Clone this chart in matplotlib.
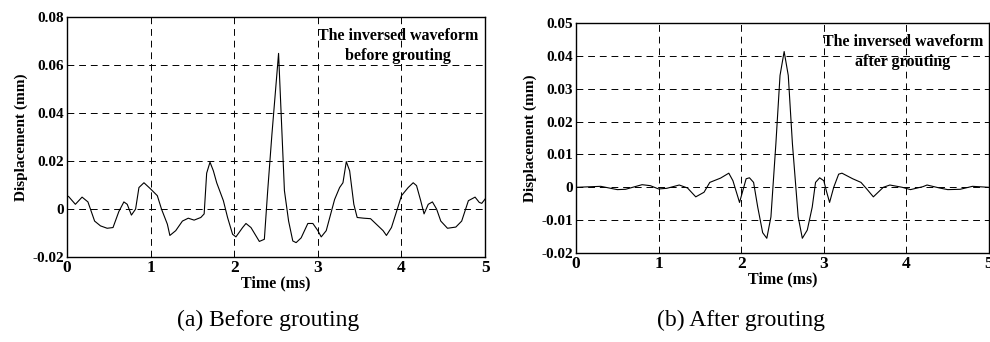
import matplotlib.pyplot as plt

plt.rcParams['font.family'] = ['Liberation Serif', 'DejaVu Serif']

# inversed waveform before grouting
t_before = [0.0, 0.02, 0.1, 0.18, 0.25, 0.33, 0.4, 0.48, 0.55, 0.62, 0.68, 0.72, 0.77, 0.82,
            0.86, 0.92, 1.0, 1.08, 1.13, 1.2, 1.23, 1.3, 1.38, 1.45, 1.52, 1.6, 1.64, 1.67,
            1.71, 1.75, 1.79, 1.87, 1.92, 1.98, 2.02, 2.1, 2.14, 2.2, 2.3, 2.36, 2.4, 2.45,
            2.53, 2.6, 2.65, 2.7, 2.74, 2.8, 2.88, 2.94, 3.0, 3.04, 3.1, 3.2, 3.26, 3.3,
            3.34, 3.38, 3.43, 3.47, 3.55, 3.63, 3.72, 3.78, 3.82, 3.88, 3.95, 4.0, 4.08,
            4.14, 4.18, 4.23, 4.27, 4.32, 4.37, 4.42, 4.47, 4.55, 4.65, 4.72, 4.8, 4.88,
            4.93, 4.96, 5.0]
d_before = [0.0056, 0.0052, 0.002, 0.005, 0.003, -0.005, -0.007, -0.008, -0.0077, -0.001,
            0.003, 0.002, -0.0025, 0.0, 0.009, 0.011, 0.0084, 0.0056, 0.0, -0.0063, -0.011,
            -0.009, -0.005, -0.0038, -0.0046, -0.0035, -0.002, 0.015, 0.0196, 0.016, 0.011,
            0.0035, -0.0035, -0.0105, -0.0116, -0.0077, -0.006, -0.0077, -0.0135, -0.0126,
            0.0077, 0.031, 0.065, 0.0077, -0.005, -0.0133, -0.014, -0.012, -0.006, -0.006,
            -0.009, -0.0116, -0.009, 0.004, 0.009, 0.011, 0.0198, 0.016, 0.002, -0.0035,
            -0.0038, -0.004, -0.007, -0.009, -0.011, -0.0077, 0.0, 0.0056, 0.009, 0.011,
            0.0098, 0.0035, -0.002, 0.002, 0.003, 0.0, -0.005, -0.008, -0.0075, -0.005,
            0.0035, 0.005, 0.0028, 0.0024, 0.0042]

# inversed waveform after grouting
t_after = [0.0, 0.3, 0.5, 0.6, 0.8, 0.9, 1.0, 1.1, 1.25, 1.35, 1.45, 1.55, 1.62, 1.75, 1.85,
           1.9, 1.98, 2.02, 2.06, 2.1, 2.15, 2.2, 2.26, 2.31, 2.36, 2.42, 2.47, 2.52, 2.57,
           2.62, 2.69, 2.74, 2.8, 2.86, 2.9, 2.95, 3.0, 3.03, 3.07, 3.12, 3.18, 3.22, 3.35,
           3.45, 3.52, 3.6, 3.72, 3.8, 3.95, 4.05, 4.2, 4.25, 4.4, 4.5, 4.65, 4.8, 5.0]
d_after = [0.0, 0.0003, -0.0007, -0.0006, 0.0008, 0.0005, -0.0005, -0.0003, 0.0007, -0.0002,
           -0.0029, -0.0015, 0.0015, 0.0028, 0.0043, 0.002, -0.0046, -0.001, 0.0026, 0.0029,
           0.0015, -0.006, -0.0138, -0.0155, -0.009, 0.0133, 0.034, 0.0413, 0.034, 0.0133,
           -0.009, -0.0155, -0.013, -0.006, 0.0015, 0.0029, 0.002, -0.001, -0.0046, 0.0,
           0.004, 0.0043, 0.0026, 0.0015, -0.0005, -0.0029, 0.0, 0.0007, 0.0, -0.0007,
           0.0002, 0.0007, -0.0002, -0.0007, -0.0006, 0.0003, 0.0]

yticks_before = [-0.02, 0, 0.02, 0.04, 0.06, 0.08]
ylabels_before = ['-0.02', '0', '0.02', '0.04', '0.06', '0.08']
yticks_after = [-0.02, -0.01, 0, 0.01, 0.02, 0.03, 0.04, 0.05]
ylabels_after = ['-0.02', '-0.01', '0', '0.01', '0.02', '0.03', '0.04', '0.05']
xticks = [0, 1, 2, 3, 4, 5]

fig = plt.figure(figsize=(9.9, 3.42), dpi=100)
ax1 = fig.add_axes([0.0677, 0.2485, 0.4223, 0.7005])
ax2 = fig.add_axes([0.5818, 0.2600, 0.4172, 0.6730])


def style(ax, t, d, yt, yl, note, note_y):
    ax.plot(t, d, color='black', lw=0.8)
    ax.set_xlim(0, 5)
    ax.set_ylim(yt[0], yt[-1])
    ax.set_xticks(xticks)
    ax.set_xticklabels([str(x) for x in xticks], fontsize=12.5, fontweight='bold')
    ax.set_yticks(yt)
    ax.set_yticklabels(yl, fontsize=11, fontweight='bold')
    ax.tick_params(length=0, pad=2)
    ax.grid(True, color='black', linestyle=(0, (7, 5)), lw=0.7)
    for s in ax.spines.values():
        s.set_linewidth(1.0)
    ax.set_xlabel('Time (ms)', fontsize=11.5, fontweight='bold', labelpad=0)
    ax.set_ylabel('Displacement (mm)', fontsize=11, fontweight='bold', labelpad=3)
    ax.text(3.96, note_y, note, ha='center', va='top', fontsize=11.5,
            fontweight='bold', linespacing=1.3)


style(ax1, t_before, d_before, yticks_before, ylabels_before,
      'The inversed waveform\nbefore grouting', 0.0755)
style(ax2, t_after, d_after, yticks_after, ylabels_after,
      'The inversed waveform\nafter grouting', 0.0465)

fig.text(0.271, 0.063, '(a) Before grouting', ha='center', va='center', fontsize=17)
fig.text(0.748, 0.063, '(b) After grouting', ha='center', va='center', fontsize=17)

fig.savefig('out.png', dpi=100)
